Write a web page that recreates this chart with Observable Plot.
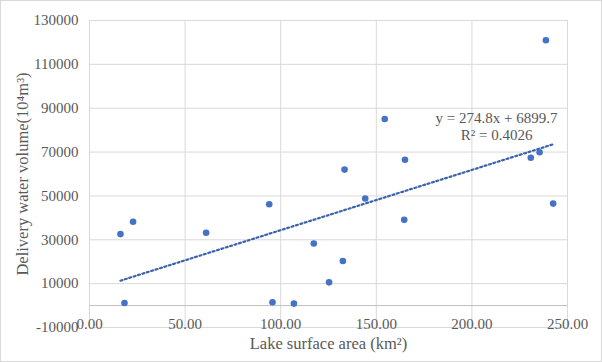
<!DOCTYPE html>
<html>
<head>
<meta charset="utf-8">
<script src="https://cdn.jsdelivr.net/npm/d3@7"></script>
<script src="https://cdn.jsdelivr.net/npm/@observablehq/plot@0.6"></script>
<style>
  html, body { margin: 0; padding: 0; background: #fff; }
  #chart svg { display: block; outline: 1px solid #d9d9d9; outline-offset: -1px; }
</style>
</head>
<body>
<div id="chart"></div>
<script>
// Lake surface area (km²)
const area = [16.2, 22.8, 18.3, 61.0, 94.0, 95.7, 106.9, 117.3, 125.3, 132.5, 133.4, 144.2, 154.4, 165.0, 164.6, 230.8, 235.4, 238.7, 242.5];
// Delivery water volume (10^4 m³)
const volume = [32600, 38200, 1200, 33200, 46200, 1500, 900, 28300, 10600, 20300, 62000, 48800, 85100, 66500, 39100, 67400, 69900, 121000, 46500];
// Trendline as printed on the chart
const trendSlope = 274.8;
const trendIntercept = 6899.7;
const trendLabel = "y = 274.8x + 6899.7\nR² = 0.4026";
const xTicks = [0, 50, 100, 150, 200, 250];
const yTicks = [-10000, 10000, 30000, 50000, 70000, 90000, 110000, 130000];
const xTitle = "Lake surface area (km²)";
const yTitle = "Delivery water volume(10⁴m³)";

const points = area.map((a, i) => ({x: a, y: volume[i]}));
const xmin = d3.min(area), xmax = d3.max(area);
const trend = [xmin, xmax].map(x => ({x, y: trendSlope * x + trendIntercept}));

const blue = "#4472c4";
const grid = "#d9d9d9";

const chart = Plot.plot({
  width: 602,
  height: 362,
  marginLeft: 89,
  marginRight: 35,
  marginTop: 20,
  marginBottom: 35,
  style: {fontFamily: "'Liberation Serif', 'Times New Roman', serif", fontSize: "15px", color: "#595959", background: "#fff"},
  x: {domain: [0, 250], axis: null},
  y: {domain: [-10000, 130000], axis: null},
  marks: [
    Plot.ruleX(xTicks, {stroke: grid, strokeWidth: 1}),
    Plot.ruleY(yTicks, {stroke: grid, strokeWidth: 1}),
    Plot.ruleY([0], {stroke: "#bfbfbf", strokeWidth: 1}),
    Plot.axisY({ticks: yTicks, tickSize: 0, tickPadding: 11, tickFormat: d => String(d), label: null, fill: "#595959", fontSize: 15}),
    Plot.text(xTicks, {x: d => d, y: () => -10000, text: d => d.toFixed(2), dy: -3, fill: "#595959", fontSize: 15}),
    Plot.line(trend, {x: "x", y: "y", stroke: "#3b64ad", strokeWidth: 2.2, strokeDasharray: "2,2.6"}),
    Plot.dot(points, {x: "x", y: "y", r: 3.3, fill: blue, stroke: "none"}),
    Plot.text([trendLabel], {x: () => 212.9, y: () => 82000, text: d => d, fill: "#595959", fontSize: 15, lineHeight: 1.13}),
    Plot.text([xTitle], {frameAnchor: "bottom", dy: 21, text: d => d, fill: "#595959", fontSize: 16.5}),
    Plot.text([yTitle], {frameAnchor: "left", textAnchor: "middle", dx: -67, rotate: -90, text: d => d, fill: "#595959", fontSize: 16.5})
  ]
});
document.getElementById("chart").appendChild(chart);
</script>
</body>
</html>
